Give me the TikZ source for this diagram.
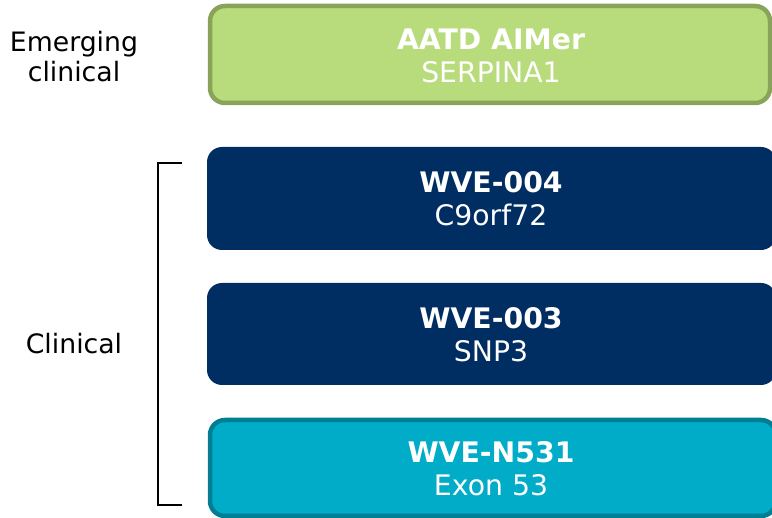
\documentclass[tikz,border=0pt]{standalone}
\usepackage{fontspec}
\setmainfont{DejaVu Sans}
\definecolor{gfill}{HTML}{B8DB7B}
\definecolor{gdraw}{HTML}{8AA35A}
\definecolor{navy}{HTML}{002D62}
\definecolor{tfill}{HTML}{00ACC7}
\definecolor{tdraw}{HTML}{007E94}
\begin{document}
\begin{tikzpicture}[x=1pt,y=-1pt,
  prog/.style={rounded corners=15pt,line width=4.5pt},
  boxtxt/.style={text=white,align=center,font=\fontsize{28.3}{33}\selectfont},
  side/.style={align=center,font=\fontsize{26.7}{30}\selectfont}]
\useasboundingbox (0,0) rectangle (772,518);
\draw[prog,fill=gfill,draw=gdraw] (210,6) rectangle (770,103);
\node[boxtxt] (b1) at (491,56) {\textbf{AATD AIMer}\\SERPINA1};
\fill[navy,rounded corners=15pt] (207,147) rectangle (776,250);
\node[boxtxt] (b2) at (491,199) {\textbf{WVE-004}\\C9orf72};
\fill[navy,rounded corners=15pt] (207,283) rectangle (776,385);
\node[boxtxt] (b3) at (491,335) {\textbf{WVE-003}\\SNP3};
\draw[prog,fill=tfill,draw=tdraw] (210,420) rectangle (776,516);
\node[boxtxt] (b4) at (491,469) {\textbf{WVE-N531}\\Exon 53};
\node[side] (l1) at (74,57) {Emerging\\clinical};
\node[side] (l2) at (74,344) {Clinical};
\draw[line width=1.3pt] (182,163) -- (158,163) -- (158,505) -- (182,505);
\end{tikzpicture}
\end{document}
